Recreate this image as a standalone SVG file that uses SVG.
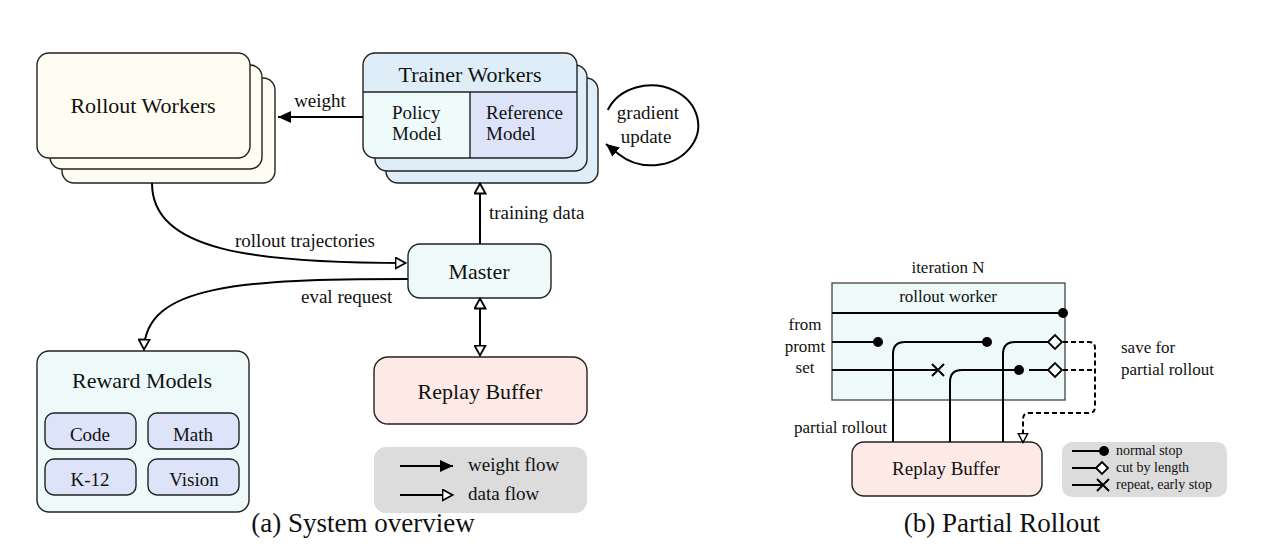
<svg xmlns="http://www.w3.org/2000/svg" width="1263" height="553" viewBox="0 0 1263 553">
<style>
text{font-family:"Liberation Serif","Times New Roman",serif;fill:#111}
.box{stroke:#222;stroke-width:1.4}
.t22{font-size:22px}
.t19{font-size:19px}
.t17{font-size:17px}
.t14{font-size:14px}
.cap{font-size:27px}
.mid{text-anchor:middle}
.end{text-anchor:end}
.ln{fill:none;stroke:#000;stroke-width:2}
.dash{fill:none;stroke:#000;stroke-width:2;stroke-dasharray:5 3}
.dot{fill:#000}
.dia{fill:#fff;stroke:#000;stroke-width:1.8}
</style>
<defs>
<marker id="fa" markerUnits="userSpaceOnUse" markerWidth="14" markerHeight="12" refX="13" refY="6" orient="auto-start-reverse"><path d="M0,0 L13,6 L0,12 Z" fill="#000"/></marker>
<marker id="ha" markerUnits="userSpaceOnUse" markerWidth="13" markerHeight="13" refX="11.5" refY="6.5" orient="auto-start-reverse"><path d="M1,1 L11,6.5 L1,12 Z" fill="#fff" stroke="#000" stroke-width="1.8"/></marker>
<marker id="hs" markerUnits="userSpaceOnUse" markerWidth="12" markerHeight="12" refX="10.5" refY="6" orient="auto"><path d="M1,1.2 L10,6 L1,10.8 Z" fill="#fff" stroke="#000" stroke-width="1.5"/></marker>
</defs>

<g id="rollout-workers">
<rect class="box" x="62" y="78" width="213" height="105" rx="12" fill="#fffcf1"/>
<rect class="box" x="50" y="65" width="212" height="104" rx="12" fill="#fffcf1"/>
<rect class="box" x="37" y="53" width="213" height="105" rx="12" fill="#fffcf1"/>
<text class="t22 mid" x="143" y="113">Rollout Workers</text>
</g>

<g id="trainer-workers">
<rect class="box" x="386" y="78" width="212" height="105" rx="12" fill="#deedf8"/>
<rect class="box" x="375" y="65" width="212" height="106" rx="12" fill="#deedf8"/>
<rect x="363" y="53" width="214" height="105" rx="12" fill="#deedf8"/>
<path d="M363,92 H470 V158 H375 A12,12 0 0 1 363,146 Z" fill="#effafa"/>
<path d="M470,92 H577 V146 A12,12 0 0 1 565,158 H470 Z" fill="#dde3f8"/>
<rect class="box" x="363" y="53" width="214" height="105" rx="12" fill="none"/>
<line class="box" x1="363" y1="92" x2="577" y2="92"/>
<line class="box" x1="470" y1="92" x2="470" y2="158"/>
<text class="t22 mid" x="470" y="82">Trainer Workers</text>
<text class="t19" x="392" y="119">Policy</text>
<text class="t19" x="392" y="140">Model</text>
<text class="t19" x="486" y="119">Reference</text>
<text class="t19" x="486" y="140">Model</text>
</g>

<g id="master">
<rect class="box" x="408" y="244" width="143" height="54" rx="12" fill="#eefaf9"/>
<text class="t22 mid" x="479" y="279">Master</text>
</g>

<g id="reward-models">
<rect class="box" x="37" y="351" width="212" height="161" rx="12" fill="#eefaf9"/>
<text class="t22 mid" x="142" y="388">Reward Models</text>
<rect class="box" x="45" y="413" width="91" height="36" rx="9" fill="#dde3f8"/>
<rect class="box" x="148" y="413" width="91" height="36" rx="9" fill="#dde3f8"/>
<rect class="box" x="45" y="459" width="91" height="36" rx="9" fill="#dde3f8"/>
<rect class="box" x="148" y="459" width="91" height="36" rx="9" fill="#dde3f8"/>
<text class="t19 mid" x="90" y="441">Code</text>
<text class="t19 mid" x="193" y="441">Math</text>
<text class="t19 mid" x="90" y="486">K-12</text>
<text class="t19 mid" x="194" y="486">Vision</text>
</g>

<g id="replay-buffer-a">
<rect class="box" x="374" y="357" width="213" height="67" rx="14" fill="#fde9e6"/>
<text class="t22 mid" x="480" y="399">Replay Buffer</text>
</g>

<g id="legend-a">
<rect x="374" y="447" width="213" height="66" rx="12" fill="#dcdcdc"/>
<line class="ln" x1="400" y1="466" x2="453" y2="466" marker-end="url(#fa)"/>
<line class="ln" x1="400" y1="495" x2="453" y2="495" marker-end="url(#ha)"/>
<text class="t19" x="468" y="471">weight flow</text>
<text class="t19" x="468" y="500">data flow</text>
</g>

<g id="connectors-a">
<line class="ln" x1="363" y1="117" x2="278" y2="117" marker-end="url(#fa)"/>
<text class="t19 mid" x="320" y="107">weight</text>
<path class="ln" d="M607.8,110 A47,40 0 1 1 618.8,154.3 L606,144" marker-end="url(#fa)"/>
<text class="t19 mid" x="648" y="119">gradient</text>
<text class="t19 mid" x="646" y="143">update</text>
<line class="ln" x1="480" y1="244" x2="480" y2="183" marker-end="url(#ha)"/>
<text class="t19" x="489" y="219">training data</text>
<path class="ln" d="M152,183 C152,250 250,263 406,263" marker-end="url(#ha)"/>
<text class="t19" x="235" y="247">rollout trajectories</text>
<path class="ln" d="M408,279 C240,279 145,285 144,350" marker-end="url(#ha)"/>
<text class="t19" x="301" y="303">eval request</text>
<line class="ln" x1="480" y1="298" x2="480" y2="356" marker-start="url(#ha)" marker-end="url(#ha)"/>
</g>

<text class="cap mid" x="363" y="532">(a) System overview</text>

<g id="rollout-worker-b">
<rect x="832" y="283" width="233" height="117" fill="#eefaf9" stroke="#444" stroke-width="1.3"/>
<text class="t17 mid" x="948" y="273">iteration N</text>
<text class="t17 mid" x="948" y="302">rollout worker</text>
</g>

<g id="replay-buffer-b">
<rect class="box" x="852" y="442" width="190" height="54" rx="12" fill="#fde9e6"/>
<text class="t19 mid" x="946" y="475">Replay Buffer</text>
</g>

<g id="connectors-b">
<path class="ln" d="M832,313 H1063"/>
<circle class="dot" cx="1063" cy="313" r="5"/>
<path class="ln" d="M832,342 H878"/>
<circle class="dot" cx="878" cy="342" r="5"/>
<path class="ln" d="M893,442 V354 Q893,342 905,342 H987"/>
<circle class="dot" cx="987" cy="342" r="5"/>
<path class="ln" d="M1003,442 V354 Q1003,342 1015,342 H1048"/>
<polygon class="dia" points="1048,342 1055,335 1062,342 1055,349"/>
<path class="ln" d="M832,370 H938"/>
<path class="ln" d="M932,364 L944,376 M932,376 L944,364"/>
<path class="ln" d="M950,442 V382 Q950,370 962,370 H1019"/>
<circle class="dot" cx="1019" cy="370" r="5"/>
<path class="ln" d="M1029,370 H1048"/>
<polygon class="dia" points="1048,370 1055,363 1062,370 1055,377"/>
<path class="dash" d="M1063,342 H1089 Q1095,342 1095,348 V407 Q1095,413 1089,413 H1029 Q1023,413 1023,419 V443" marker-end="url(#hs)"/>
<path class="dash" d="M1063,370 H1095"/>
</g>

<g id="labels-b">
<text class="t17 mid" x="805" y="330">from</text>
<text class="t17 mid" x="805" y="352">promt</text>
<text class="t17 mid" x="805" y="373">set</text>
<text class="t17" x="1121" y="353">save for</text>
<text class="t17" x="1121" y="375">partial rollout</text>
<text class="t17 end" x="887" y="433">partial rollout</text>
</g>

<g id="legend-b">
<rect x="1062" y="442" width="165" height="55" rx="10" fill="#dcdcdc"/>
<path class="ln" d="M1072,451 H1100"/>
<circle class="dot" cx="1104" cy="451" r="5"/>
<path class="ln" d="M1072,468 H1096"/>
<polygon class="dia" points="1096,468 1102,462 1108,468 1102,474"/>
<path class="ln" d="M1072,485 H1103 M1097,479 L1109,491 M1097,491 L1109,479"/>
<text class="t14" x="1116" y="455">normal stop</text>
<text class="t14" x="1116" y="472">cut by length</text>
<text class="t14" x="1116" y="489">repeat, early stop</text>
</g>

<text class="cap mid" x="1002" y="532">(b) Partial Rollout</text>
</svg>
